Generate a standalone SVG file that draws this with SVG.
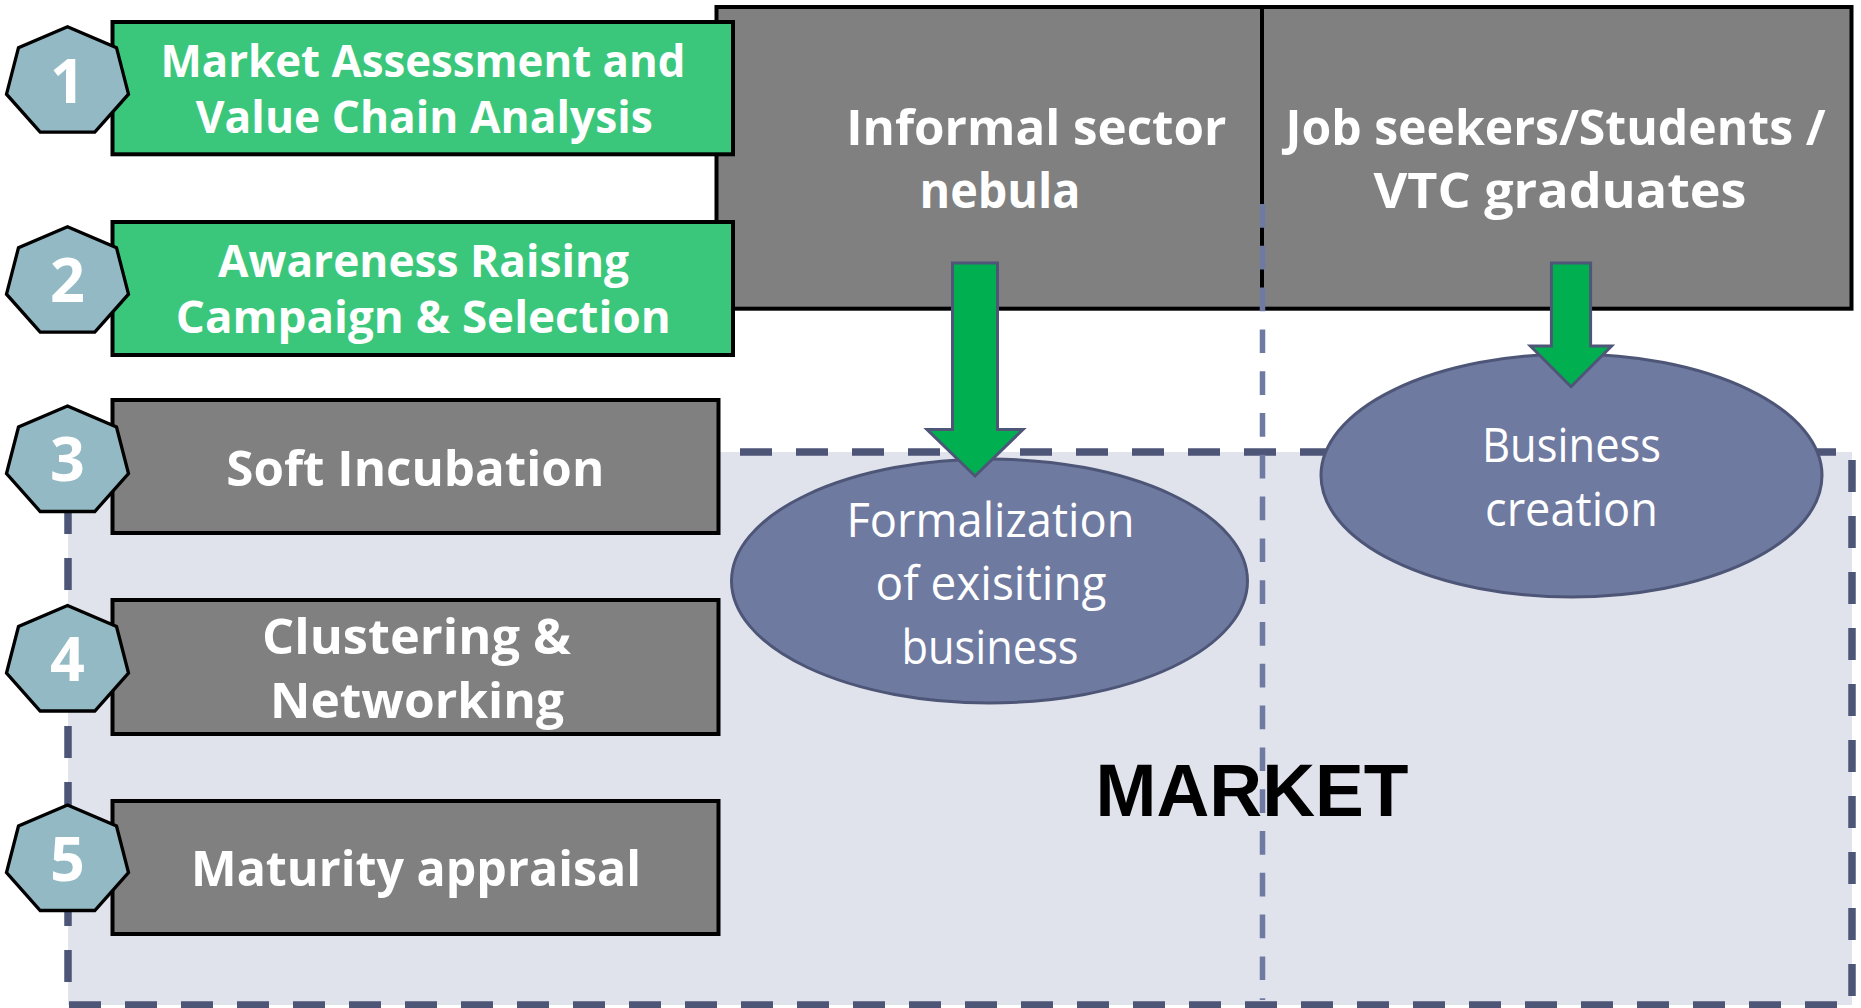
<svg xmlns="http://www.w3.org/2000/svg" xmlns:xlink="http://www.w3.org/1999/xlink" width="1861" height="1008" viewBox="0 0 1861 1008">
<defs>
<style>
.green{fill:#3ac77c;stroke:#000;stroke-width:4}
.gray{fill:#808080;stroke:#000;stroke-width:4}
.num{font-family:"Open Sans","Liberation Sans",sans-serif;font-weight:700;font-size:61px;fill:#fff;text-anchor:middle}
.lbl{font-family:"Open Sans","Liberation Sans",sans-serif;font-weight:700;fill:#fff;text-anchor:middle}
.s44{font-size:44px}
.s48{font-size:48px}
.ell{fill:#6f7aa1;stroke:#4e5677;stroke-width:3}
.etxt{font-family:"Open Sans","Liberation Sans",sans-serif;font-weight:400;font-size:47px;fill:#fff;text-anchor:middle}
.arrow{fill:#00b050;stroke:#4e5677;stroke-width:3;stroke-linejoin:miter}
.market{fill:#e0e3ec;stroke:#4e5677;stroke-width:7.5;stroke-dasharray:32 24}
.mtxt{font-family:"Liberation Sans",Arial,sans-serif;font-weight:700;font-size:75px;fill:#000;text-anchor:middle}
.vline{stroke:#6f7aa3;stroke-width:5.5;stroke-dasharray:23.7 18.1;fill:none}
</style>
<polygon id="hept" fill="#93bac4" stroke="#000" stroke-width="3.3" stroke-linejoin="miter" points="67.5,0 116.5,21 128.5,67.5 94.8,105.5 40.2,105.5 6.5,67.5 18.5,21"/>
</defs>
<rect width="1861" height="1008" fill="#fff"/>

<g id="market">
<rect class="market" x="68" y="452" width="1784" height="553"/>
<text class="mtxt" x="1252" y="815.6" textLength="313" lengthAdjust="spacingAndGlyphs">MARKET</text>
</g>

<g id="informal-sector">
<rect class="gray" x="716.5" y="7" width="545.5" height="301.7"/>
<text class="lbl s48" x="1036.3" y="145" textLength="380" lengthAdjust="spacingAndGlyphs">Informal sector</text>
<text class="lbl s48" x="1000" y="208.3" textLength="161" lengthAdjust="spacingAndGlyphs">nebula</text>
</g>

<g id="job-seekers">
<rect class="gray" x="1262" y="7" width="589.5" height="301.7"/>
<text class="lbl s48" x="1555.5" y="145" textLength="540" lengthAdjust="spacingAndGlyphs">Job seekers/Students /</text>
<text class="lbl s48" x="1560" y="208.3" textLength="373" lengthAdjust="spacingAndGlyphs">VTC graduates</text>
</g>

<g id="step1">
<rect class="green" x="112.5" y="22" width="620.5" height="132.3"/>
<use xlink:href="#hept" href="#hept" y="26.7"/>
<text class="num" x="67.5" y="102.7">1</text>
<text class="lbl s44" x="423" y="76.7" textLength="525" lengthAdjust="spacingAndGlyphs">Market Assessment and</text>
<text class="lbl s44" x="424.3" y="133.3" textLength="457" lengthAdjust="spacingAndGlyphs">Value Chain Analysis</text>
</g>

<g id="step2">
<rect class="green" x="112.5" y="222" width="620.5" height="133"/>
<use xlink:href="#hept" href="#hept" y="226.7"/>
<text class="num" x="67.5" y="301.7">2</text>
<text class="lbl s44" x="423.5" y="276.7" textLength="411" lengthAdjust="spacingAndGlyphs">Awareness Raising</text>
<text class="lbl s44" x="423.3" y="333.3" textLength="495" lengthAdjust="spacingAndGlyphs">Campaign &amp; Selection</text>
</g>

<g id="step3">
<rect class="gray" x="112.5" y="400" width="606" height="133"/>
<use xlink:href="#hept" href="#hept" y="406"/>
<text class="num" x="67.5" y="480.5">3</text>
<text class="lbl s48" x="415.3" y="486" textLength="378" lengthAdjust="spacingAndGlyphs">Soft Incubation</text>
</g>

<g id="step4">
<rect class="gray" x="112.5" y="600" width="606" height="134"/>
<use xlink:href="#hept" href="#hept" y="605.5"/>
<text class="num" x="67.5" y="680.8">4</text>
<text class="lbl s48" x="416.5" y="654" textLength="309" lengthAdjust="spacingAndGlyphs">Clustering &amp;</text>
<text class="lbl s48" x="417" y="718" textLength="294" lengthAdjust="spacingAndGlyphs">Networking</text>
</g>

<g id="step5">
<rect class="gray" x="112.5" y="801" width="606" height="133"/>
<use xlink:href="#hept" href="#hept" y="805"/>
<text class="num" x="67.5" y="880.8">5</text>
<text class="lbl s48" x="416" y="886" textLength="450" lengthAdjust="spacingAndGlyphs">Maturity appraisal</text>
</g>

<g id="formalization">
<ellipse class="ell" cx="989.5" cy="581" rx="258" ry="122"/>
<text class="etxt" x="990.5" y="536.5" textLength="288" lengthAdjust="spacingAndGlyphs">Formalization</text>
<text class="etxt" x="991" y="600" textLength="231" lengthAdjust="spacingAndGlyphs">of exisiting</text>
<text class="etxt" x="990" y="663.7" textLength="177" lengthAdjust="spacingAndGlyphs">business</text>
</g>

<g id="business-creation">
<ellipse class="ell" cx="1571.5" cy="475.5" rx="250.5" ry="121.5"/>
<text class="etxt" x="1571.5" y="461.5" textLength="179" lengthAdjust="spacingAndGlyphs">Business</text>
<text class="etxt" x="1571.5" y="526" textLength="173" lengthAdjust="spacingAndGlyphs">creation</text>
</g>

<g id="connectors">
<line class="vline" x1="1262.5" y1="204" x2="1262.5" y2="1000"/>
<polygon class="arrow" points="952.5,263 997.5,263 997.5,429.5 1023,429.5 975,476 927,429.5 952.5,429.5"/>
<polygon class="arrow" points="1551.4,263 1590.6,263 1590.6,346 1611.6,346 1571,386.7 1530.4,346 1551.4,346"/>
</g>
</svg>
